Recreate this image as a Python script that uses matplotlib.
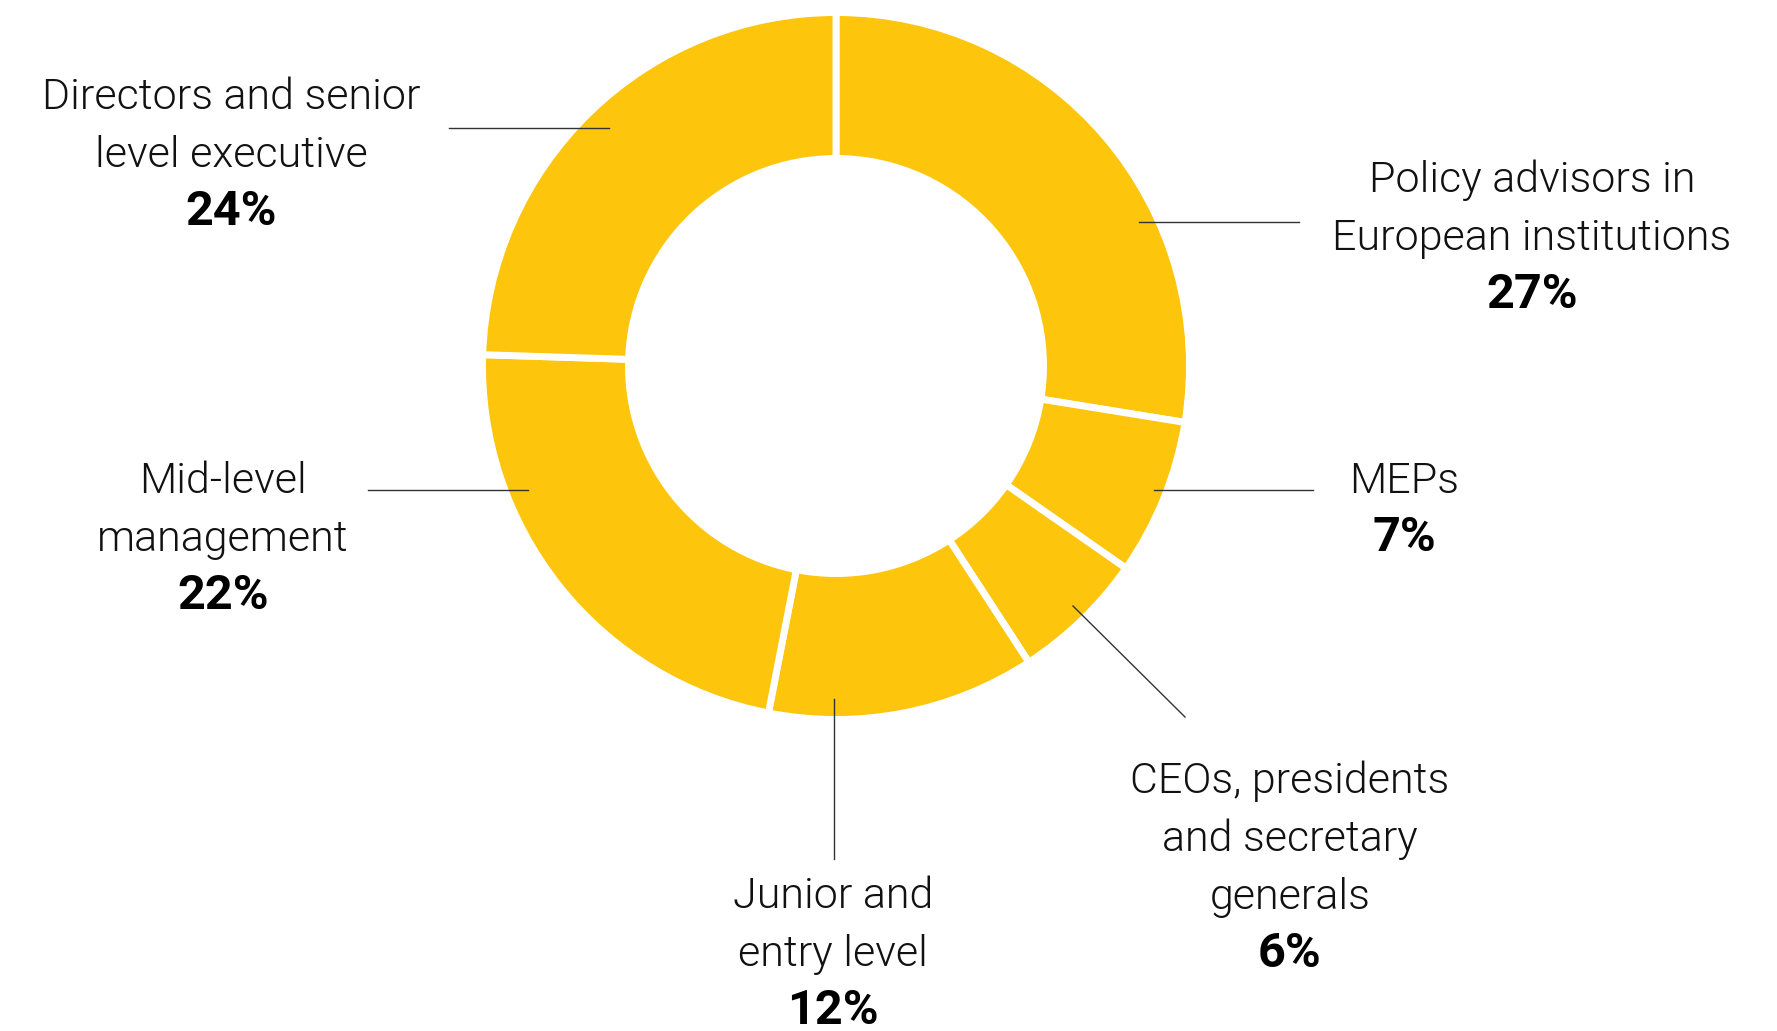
import matplotlib
matplotlib.use("Agg")
import matplotlib.pyplot as plt
import matplotlib.font_manager as fm

# Data
categories = [
    "Policy advisors in\nEuropean institutions",
    "MEPs",
    "CEOs, presidents\nand secretary\ngenerals",
    "Junior and\nentry level",
    "Mid-level\nmanagement",
    "Directors and senior\nlevel executive",
]
shares = [27, 7, 6, 12, 22, 24]

# Layout in pixels (x, y from top-left of the image)
W, H = 1777, 1031
center = (836, 366)
radius = 353.5
ring = 146
yellow = "#FDC50C"

# label centre x, first baseline y
label_pos = [(1532, 192), (1404, 493), (1290, 793), (833, 908), (223, 493), (231, 109)]
# leader lines (x0, y0, x1, y1)
leaders = [
    (1139, 222, 1299, 222),
    (1154, 490, 1313, 490),
    (1073, 606, 1185, 717),
    (834, 699, 834, 859),
    (368, 490, 528, 490),
    (449, 128, 609, 128),
]
step = 58


def pick_light():
    for fam in ["Roboto", "Lato", "Inter", "Open Sans", "Noto Sans"]:
        for f in fm.fontManager.ttflist:
            w = f.weight
            if isinstance(w, str):
                w = {"light": 300, "extra light": 200, "ultralight": 200, "thin": 100}.get(w.lower(), 400)
            if f.name == fam and 250 <= w <= 300 and f.style == "normal":
                return fam, w
    return "Roboto", 400


light_family, light_weight = pick_light()

fig = plt.figure(figsize=(W / 100, H / 100), dpi=100)
ax = fig.add_axes([0, 0, 1, 1])

ax.pie(shares, startangle=90, counterclock=False, radius=radius,
       center=(center[0], H - center[1]), colors=[yellow] * len(shares),
       wedgeprops=dict(width=ring, edgecolor="white", linewidth=5))

ax.set_xlim(0, W)
ax.set_ylim(0, H)
ax.set_aspect("equal")
ax.axis("off")

for cat, val, (lx, ly), (x0, y0, x1, y1) in zip(categories, shares, label_pos, leaders):
    ax.plot([x0, x1], [H - y0, H - y1], color="#333333", lw=1)
    lines = cat.split("\n")
    for i, line in enumerate(lines):
        ax.text(lx, H - (ly + i * step), line, ha="center", va="baseline",
                fontsize=31, family=light_family, weight=light_weight, color="#111111")
    ax.text(lx, H - (ly + len(lines) * step), f"{val}%", ha="center", va="baseline",
            fontsize=35, family=light_family, weight="bold", color="black")

fig.savefig("out.png", dpi=100)
